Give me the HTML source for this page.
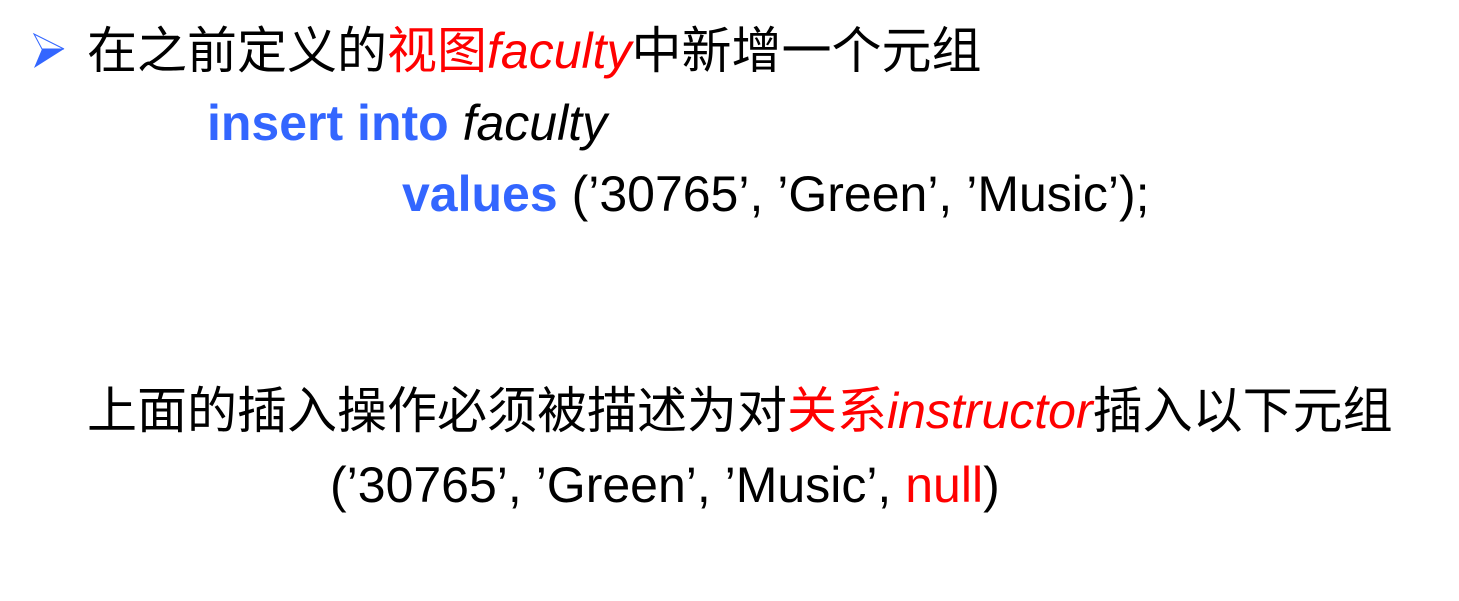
<!DOCTYPE html>
<html><head><meta charset="utf-8"><style>
body{margin:0;width:1459px;height:601px;background:#fff;position:relative;overflow:hidden;font-family:"Liberation Sans","Noto Sans CJK SC",sans-serif;font-size:50px;color:#000}
.l{position:absolute;white-space:nowrap;line-height:50px}
.b{color:#3366ff;font-weight:bold}
.r{color:#ff0000}
i{font-style:italic}
</style></head><body>
<svg style="position:absolute;left:30px;top:30px" width="40" height="40" viewBox="0 0 40 40">
<polygon points="4,4 34,19 4,38 12,19" fill="#3366ff"/>
<polygon points="4,4 34,19 12,19" fill="#fff" stroke="#3366ff" stroke-width="1"/>
</svg>
<div class="l" style="left:87px;top:26px">在之前定义的<span class="r">视图<i>faculty</i></span>中新增一个元组</div>
<div class="l" style="left:207px;top:98px"><span class="b">insert into</span> <i>faculty</i></div>
<div class="l" style="left:402px;top:169px"><span class="b">values</span> (’30765’, ’Green’, ’Music’);</div>
<div class="l" style="left:87px;top:386px">上面的插入操作必须被描述为对<span class="r">关系<i>instructor</i></span>插入以下元组</div>
<div class="l" style="left:330px;top:460px">(’30765’, ’Green’, ’Music’, <span class="r">null</span>)</div>
</body></html>
